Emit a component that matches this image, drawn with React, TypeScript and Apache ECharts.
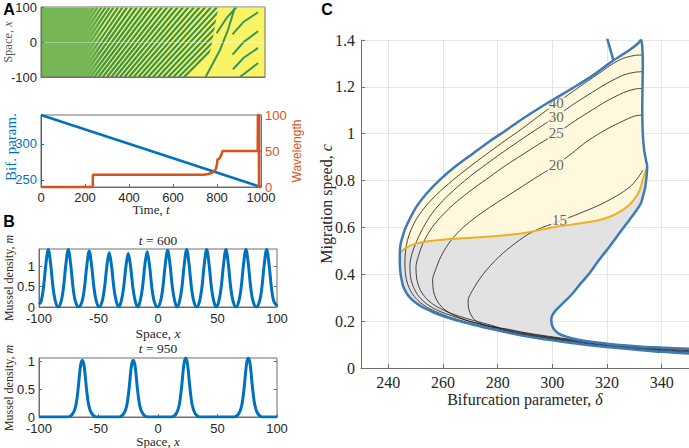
import React, { useEffect, useRef } from "react";
import * as echarts from "echarts";

// ---------------- Panel A (top): space-time pattern ----------------
const timeRange = [0, 1000];
const spaceRange = [-100, 100];
const formationStart = 212; // homogeneous (green) state until here
const formationEnd = 278; // stripes fully developed from here
// front after which the dense stripes have vanished: [t, x]
const sparseFront = [[722, -100], [758, -20], [792, 100]];
// dense stripes: time at which each stripe crosses x = -100, x = 0, x = 100
const denseStripes = [
  [25, 130, 235], [43, 148, 253], [61, 166, 271], [79, 184, 289], [97, 202, 307], [115, 220, 325],
  [133, 239, 345], [151, 258, 365], [169, 277, 385], [185, 296, 407], [203, 316, 429], [221, 336, 451],
  [239, 356, 473], [257, 376, 495], [276, 397, 518], [295, 418, 541], [314, 439, 564], [333, 460, 587],
  [353, 482, 611], [373, 504, 635], [393, 526, 659], [414, 549, 684], [435, 572, 709], [456, 595, 734],
  [478, 619, 760], [500, 643, 786], [522, 667, 812], [545, 692, 839], [568, 717, 866], [591, 742, 893],
  [615, 768, 921], [639, 794, 949],
];
// sparse stripes after the wavelength change: lists of [t, x]
const sparseStripes = [
  [[735, -100], [799, -23], [835, 35], [866, 100]],
  [[784, 25], [830, 70], [873, 100]],
  [[855, 22], [905, 58], [969, 85]],
  [[855, -36], [905, 0], [969, 31]],
  [[857, -78], [905, -45], [969, -17]],
  [[888, -100], [925, -82], [969, -60]],
];

// ---------------- Panel A (bottom) ----------------
const rampTime = [0, 1000];
const bifParam = [340, 240];
const wavelengthTime = [0, 235, 236, 740, 760, 780, 790, 795, 800, 802, 812, 820, 825, 985, 986, 990, 991, 1000];
const wavelengthValue = [0, 0, 17, 17, 18, 20, 23, 25, 32, 38, 40, 45, 50, 50, 100, 100, 0, 0];

// ---------------- Panel B ----------------
const profile600 = [
  [-100, 0.07], [-98.2, 0.14], [-96.2, 0.48], [-94.2, 1.05], [-92.2, 1.41], [-90.2, 1.05], [-88.2, 0.48], [-86.2, 0.14], [-83.8, 0],
  [-81.4, 0.14], [-79.4, 0.48], [-77.4, 1.05], [-75.4, 1.41], [-73.4, 1.05], [-71.4, 0.48], [-69.4, 0.14], [-66.6, 0],
  [-63.8, 0.14], [-61.8, 0.47], [-59.8, 1.02], [-57.8, 1.37], [-55.8, 1.02], [-53.8, 0.47], [-51.8, 0.14], [-49.4, 0],
  [-47, 0.13], [-45, 0.46], [-43, 0.99], [-41, 1.33], [-39, 0.99], [-37, 0.46], [-35, 0.13], [-33, 0],
  [-31, 0.13], [-29, 0.45], [-27, 0.98], [-25, 1.31], [-23, 0.98], [-21, 0.45], [-19, 0.13], [-17.05, 0],
  [-15.1, 0.13], [-13.1, 0.46], [-11.1, 1.01], [-9.1, 1.35], [-7.1, 1.01], [-5.1, 0.46], [-3.1, 0.13], [-0.5, 0],
  [2.1, 0.14], [4.1, 0.48], [6.1, 1.04], [8.1, 1.39], [10.1, 1.04], [12.1, 0.48], [14.1, 0.14], [16.1, 0],
  [18.1, 0.14], [20.1, 0.48], [22.1, 1.05], [24.1, 1.41], [26.1, 1.05], [28.1, 0.48], [30.1, 0.14], [32.5, 0],
  [34.9, 0.14], [36.9, 0.48], [38.9, 1.05], [40.9, 1.41], [42.9, 1.05], [44.9, 0.48], [46.9, 0.14], [49, 0],
  [51.1, 0.14], [53.1, 0.48], [55.1, 1.05], [57.1, 1.41], [59.1, 1.05], [61.1, 0.48], [63.1, 0.14], [65.5, 0],
  [67.9, 0.14], [69.9, 0.48], [71.9, 1.05], [73.9, 1.41], [75.9, 1.05], [77.9, 0.48], [79.9, 0.14], [82.6, 0],
  [85.3, 0.14], [87.3, 0.48], [89.3, 1.05], [91.3, 1.41], [93.3, 1.05], [95.3, 0.48], [97.3, 0.14], [100, 0.03],
];
const profile950 = [
  [-100, 0], [-75.6, 0], [-71.6, 0.06], [-69.1, 0.2], [-67.1, 0.51], [-65.1, 0.92], [-63.6, 1.02], [-62.1, 0.92], [-60.1, 0.51], [-58.1, 0.2], [-55.6, 0.06], [-51.6, 0],
  [-32.8, 0], [-28.8, 0.06], [-26.3, 0.2], [-24.3, 0.51], [-22.3, 0.92], [-20.8, 1.02], [-19.3, 0.92], [-17.3, 0.51], [-15.3, 0.2], [-12.8, 0.06], [-8.8, 0],
  [11.3, 0], [15.3, 0.06], [17.8, 0.21], [19.8, 0.53], [21.8, 0.95], [23.3, 1.06], [24.8, 0.95], [26.8, 0.53], [28.8, 0.21], [31.3, 0.06], [35.3, 0],
  [63.9, 0], [67.9, 0.06], [70.4, 0.21], [72.4, 0.53], [74.4, 0.95], [75.9, 1.06], [77.4, 0.95], [79.4, 0.53], [81.4, 0.21], [83.9, 0.06], [87.9, 0],
  [100, 0],
];

// ---------------- Panel C ----------------
const envelopeLowerUpper = [
  [350, 0.062], [340, 0.069], [331.8, 0.077], [322, 0.087], [313.6, 0.097], [305, 0.11], [296.5, 0.124], [290, 0.136],
  [283.2, 0.152], [277, 0.168], [272.2, 0.182], [267, 0.197], [262.5, 0.212], [258.5, 0.228], [255.2, 0.245], [252.5, 0.26],
  [250.3, 0.276], [248.2, 0.297], [246.7, 0.319], [245.4, 0.35], [244.8, 0.38], [244.4, 0.41], [244.2, 0.45], [244.2, 0.49],
  [244.5, 0.53], [245.2, 0.56], [246, 0.59], [248, 0.64], [250.3, 0.689], [254, 0.745], [258.8, 0.803], [264.5, 0.86],
  [271, 0.916], [277, 0.967], [283.2, 1.016], [289, 1.063], [295.3, 1.11], [301.4, 1.153], [307.5, 1.195], [315, 1.25],
  [322, 1.31], [328, 1.355], [331.3, 1.385], [332.5, 1.402],
];
const envelopeRight = [
  [332.5, 1.402], [332.9, 1.372], [333.1, 1.3], [333, 1.2], [332.9, 1.1], [333.1, 1.0], [333.6, 0.93], [334.3, 0.885],
  [334.7, 0.86], [334.5, 0.82], [334, 0.774], [333.2, 0.735], [332.4, 0.703], [330.6, 0.67], [328.2, 0.632], [324.5, 0.575],
  [320.9, 0.518], [317, 0.46], [313.6, 0.404], [310.3, 0.36], [307.5, 0.319], [304.2, 0.28], [301.4, 0.248], [300, 0.225],
  [299.6, 0.205], [299.9, 0.183], [300.8, 0.162], [302.5, 0.146], [305.1, 0.134], [309, 0.122], [313.6, 0.113], [320, 0.104],
  [326, 0.097], [333, 0.091], [340, 0.087], [350, 0.082],
];
const envelopeTopFold = [[319.5, 1.43], [322.3, 1.315]];
const yellowCurve = [
  [244.2, 0.49], [246, 0.51], [250.3, 0.532], [258.8, 0.546], [277, 0.561], [289.2, 0.575], [301.4, 0.603], [310, 0.617],
  [317.2, 0.632], [322, 0.65], [325.7, 0.674], [328.5, 0.7], [330.6, 0.731], [332, 0.76], [333, 0.8], [334, 0.835], [334.7, 0.86],
];
const contour40 = [
  [333.2, 1.336], [330, 1.334], [326, 1.322], [322, 1.298], [318, 1.265], [313, 1.225], [307.5, 1.18], [301.4, 1.13],
  [295, 1.075], [289, 1.022], [283, 0.973], [277, 0.922], [271, 0.87], [265, 0.815], [259, 0.755], [254, 0.695],
  [250.5, 0.64], [248.3, 0.59], [247, 0.545], [246.3, 0.5], [246.06, 0.45], [246.4, 0.39], [247.5, 0.345], [249.5, 0.305],
  [252.5, 0.272], [256.5, 0.245], [262, 0.219], [268, 0.198], [275, 0.177], [283.2, 0.155], [290, 0.139], [296.5, 0.127],
  [305, 0.113], [313.6, 0.1], [322, 0.09], [331.8, 0.08], [340, 0.072], [350, 0.065],
];
const contour30 = [
  [333.2, 1.265], [330, 1.262], [326, 1.25], [320, 1.215], [313, 1.165], [307, 1.12], [301.4, 1.073], [295, 1.025],
  [289, 0.978], [283, 0.93], [277, 0.88], [271, 0.828], [265, 0.77], [260, 0.715], [256, 0.66], [252.8, 0.6],
  [250.3, 0.54], [248.7, 0.49], [247.9, 0.44], [248.1, 0.39], [249.2, 0.345], [251.2, 0.305], [254.2, 0.272], [258.2, 0.245],
  [263.5, 0.222], [269.5, 0.2], [276, 0.18], [283.2, 0.158], [290, 0.142], [296.5, 0.13], [305, 0.116], [313.6, 0.103],
  [322, 0.093], [331.8, 0.083], [340, 0.075], [350, 0.068],
];
const contour25 = [
  [333.2, 1.194], [330, 1.19], [326, 1.175], [320, 1.14], [313, 1.09], [307, 1.045], [301.4, 1.0], [295, 0.955],
  [289, 0.91], [283, 0.865], [277, 0.815], [271, 0.765], [265, 0.71], [260, 0.655], [256, 0.6], [253, 0.54],
  [251.2, 0.485], [250.1, 0.43], [250.4, 0.38], [251.6, 0.335], [253.8, 0.298], [257, 0.267], [261.5, 0.24], [267, 0.217],
  [273, 0.197], [279, 0.178], [283.2, 0.161], [290, 0.145], [296.5, 0.133], [305, 0.119], [313.6, 0.106], [322, 0.096],
  [331.8, 0.086], [340, 0.078], [350, 0.071],
];
const contour20 = [
  [333.2, 1.08], [330, 1.075], [326, 1.055], [320, 1.02], [313, 0.97], [307, 0.915], [301.4, 0.866], [295, 0.82],
  [289, 0.775], [283, 0.73], [277, 0.685], [271, 0.635], [266, 0.585], [262, 0.53], [259.2, 0.475], [257.3, 0.42],
  [256.2, 0.376], [256.5, 0.33], [257.7, 0.29], [260, 0.255], [263.5, 0.228], [268, 0.206], [273.5, 0.188], [279, 0.174],
  [283.2, 0.164], [290, 0.148], [296.5, 0.136], [305, 0.122], [313.6, 0.109], [322, 0.099], [331.8, 0.089], [340, 0.081],
  [350, 0.074],
];
const contour15 = [
  [333.2, 0.845], [331.5, 0.815], [329, 0.78], [325, 0.745], [318, 0.7], [310, 0.66], [302, 0.624], [298, 0.607],
  [294.1, 0.589], [291, 0.57], [288, 0.546], [284.8, 0.518], [281.9, 0.49], [278.8, 0.455], [275.9, 0.418], [273.4, 0.38],
  [271.6, 0.347], [270, 0.315], [269.2, 0.29], [269.3, 0.26], [269.9, 0.235], [271.2, 0.21], [273, 0.194], [276, 0.181],
  [279.5, 0.173], [283.2, 0.167], [290, 0.151], [296.5, 0.139], [305, 0.125], [313.6, 0.112], [322, 0.102], [331.8, 0.092],
  [340, 0.084], [350, 0.077],
];
const contourLevels = ["40", "30", "25", "20", "15"];
const contourLabelPos = [[301.4, 1.13], [301.4, 1.073], [301.4, 1.002], [301.4, 0.866], [302.6, 0.632]];

const deltaTicks = [240, 260, 280, 300, 320, 340];
const densityTicks = [0, 0.5, 1];
const bifTicks = [250, 300];

// ---------------- styles ----------------
const SANS = '"Liberation Sans", Arial, Helvetica, sans-serif';
const SERIF = '"Liberation Serif", "Times New Roman", serif';
const INK = "#262626";
const AXIS = "#6e6e6e";
const MBLUE = "#0072bd";
const MORANGE = "#d95319";
const YELLOW = "#f8f466";
const GREEN = "#76b654";
const STRIPE = "#3a9455";
const CBLUE = "#3d7ab8";
const CYELLOW = "#edb120";
const FILL_Y = "#fff8dc";
const FILL_G = "#e2e2e2";

function txt(x: number, y: number, text: string, size: number, fill: string, rotate = false, family = SERIF, weight = "normal") {
  return {
    type: "text",
    x,
    y,
    rotation: rotate ? Math.PI / 2 : 0,
    silent: true,
    style: {
      text,
      align: "center",
      verticalAlign: "middle",
      fontSize: size,
      fontFamily: family,
      fontWeight: weight,
      fill,
      rich: { i: { fontStyle: "italic", fontSize: size, fontFamily: family, fill } },
    },
  };
}

function rectItem(api: any, t0: number, t1: number) {
  const a = api.coord([t0, spaceRange[1]]);
  const b = api.coord([t1, spaceRange[0]]);
  return { x: a[0], y: a[1], width: b[0] - a[0], height: b[1] - a[1] };
}

function buildOption(): any {
  const tickSans = { fontFamily: SANS, fontSize: 13, color: INK };
  const lineGray = { show: true, onZero: false, lineStyle: { color: AXIS, width: 1 } };
  const noLine = { show: false, onZero: false };
  const plain = (v: number) => String(v);

  const yellowPoly = [
    ...envelopeLowerUpper.slice(envelopeLowerUpper.findIndex((p) => p[1] === 0.49)),
    ...envelopeRight.slice(1, envelopeRight.findIndex((p) => p[1] === 0.86) + 1),
    ...yellowCurve.slice().reverse(),
  ];
  const rightDown = envelopeRight.slice(
    envelopeRight.findIndex((p) => p[1] === 0.86),
    envelopeRight.findIndex((p) => p[0] === 309) + 1
  );
  const lowerBack = envelopeLowerUpper.filter((p) => p[0] <= 305 && p[1] < 0.49);
  const grayPoly = [...yellowCurve, ...rightDown, ...lowerBack];

  const polySeries = (pts: number[][], fill: string, z: number) => ({
    type: "custom",
    xAxisIndex: 4,
    yAxisIndex: 7,
    silent: true,
    z,
    clip: true,
    data: [[0]],
    renderItem: (_p: any, api: any) => ({
      type: "polygon",
      shape: { points: pts.map((p) => api.coord(p)) },
      style: { fill },
    }),
  });

  const cLine = (pts: number[][], color: string, width: number, z: number) => ({
    type: "line",
    xAxisIndex: 4,
    yAxisIndex: 7,
    data: pts,
    showSymbol: false,
    symbol: "none",
    smooth: 0.3,
    silent: true,
    z,
    lineStyle: { color, width },
  });

  const tickIn = (color = AXIS) => ({ inside: true, length: 3, lineStyle: { color } });

  return {
    animation: false,
    backgroundColor: "#ffffff",
    grid: [
      { left: 41, top: 7, width: 224, height: 70, show: true, borderColor: AXIS, borderWidth: 1, backgroundColor: "transparent", z: 10 },
      { left: 41, top: 115, width: 220, height: 72, show: true, borderColor: AXIS, borderWidth: 1, backgroundColor: "transparent" },
      { left: 39, top: 249, width: 238, height: 58, show: true, borderColor: AXIS, borderWidth: 1, backgroundColor: "transparent" },
      { left: 39, top: 358, width: 238, height: 59, show: true, borderColor: AXIS, borderWidth: 1, backgroundColor: "transparent" },
      { left: 361, top: 40, width: 328, height: 328 },
    ],
    xAxis: [
      { gridIndex: 0, type: "value", min: timeRange[0], max: timeRange[1], interval: 200, axisLabel: { show: false }, axisTick: { show: false }, axisLine: lineGray, splitLine: { show: false }, z: 10 },
      { gridIndex: 1, type: "value", min: 0, max: 1000, interval: 200, axisLabel: { ...tickSans, margin: 4, formatter: plain }, axisTick: tickIn(), axisLine: lineGray, splitLine: { show: false } },
      { gridIndex: 2, type: "value", min: -100, max: 100, interval: 50, axisLabel: { ...tickSans, margin: 5, formatter: plain }, axisTick: tickIn(), axisLine: lineGray, splitLine: { show: false } },
      { gridIndex: 3, type: "value", min: -100, max: 100, interval: 50, axisLabel: { ...tickSans, margin: 5, formatter: plain }, axisTick: tickIn(), axisLine: lineGray, splitLine: { show: false } },
      {
        gridIndex: 4, type: "value", min: 230, max: 350,
        axisLabel: { customValues: deltaTicks, fontFamily: SERIF, fontSize: 16, color: INK, margin: 6 },
        axisTick: { customValues: deltaTicks, inside: true, length: 4, lineStyle: { color: AXIS } },
        axisLine: lineGray,
        splitLine: { show: true, lineStyle: { color: "#e6e6e6", width: 1 } },
      },
    ],
    yAxis: [
      {
        gridIndex: 0, type: "value", min: spaceRange[0], max: spaceRange[1], interval: 100,
        axisLabel: { ...tickSans, margin: 4 }, axisTick: tickIn(), axisLine: lineGray,
        splitLine: { show: true, lineStyle: { color: "rgba(255,255,255,0.35)", width: 1 } }, z: 10,
      },
      {
        gridIndex: 1, type: "value", min: 240, max: 340, position: "left",
        axisLabel: { customValues: bifTicks, fontFamily: SANS, fontSize: 13, color: MBLUE, margin: 4 },
        axisTick: { customValues: bifTicks, inside: true, length: 3, lineStyle: { color: MBLUE } },
        axisLine: { show: true, onZero: false, lineStyle: { color: MBLUE, width: 1 } },
        splitLine: { show: false },
      },
      {
        gridIndex: 1, type: "value", min: 0, max: 100, interval: 50, position: "right",
        axisLabel: { fontFamily: SANS, fontSize: 13, color: MORANGE, margin: 4 },
        axisTick: tickIn(MORANGE),
        axisLine: { show: true, onZero: false, lineStyle: { color: MORANGE, width: 1 } },
        splitLine: { show: false },
      },
      {
        gridIndex: 2, type: "value", min: 0, max: 1.42,
        axisLabel: { customValues: densityTicks, ...tickSans, margin: 4 },
        axisTick: { customValues: densityTicks, ...tickIn() },
        axisLine: lineGray, splitLine: { show: false },
      },
      {
        gridIndex: 2, type: "value", min: 0, max: 1.42, position: "right",
        axisLabel: { show: false }, axisLine: noLine, splitLine: { show: false },
        axisTick: { customValues: densityTicks, ...tickIn() },
      },
      {
        gridIndex: 3, type: "value", min: 0, max: 1.06,
        axisLabel: { customValues: densityTicks, ...tickSans, margin: 4 },
        axisTick: { customValues: densityTicks, ...tickIn() },
        axisLine: lineGray, splitLine: { show: false },
      },
      {
        gridIndex: 3, type: "value", min: 0, max: 1.06, position: "right",
        axisLabel: { show: false }, axisLine: noLine, splitLine: { show: false },
        axisTick: { customValues: densityTicks, ...tickIn() },
      },
      {
        gridIndex: 4, type: "value", min: 0, max: 1.4, interval: 0.2,
        axisLabel: { fontFamily: SERIF, fontSize: 16, color: INK, margin: 6, formatter: (v: number) => String(Math.round(v * 10) / 10) },
        axisTick: { inside: true, length: 4, lineStyle: { color: AXIS } },
        axisLine: lineGray,
        splitLine: { show: true, lineStyle: { color: "#e6e6e6", width: 1 } },
      },
    ],
    series: [
      // ---- Panel A heatmap ----
      {
        type: "custom", xAxisIndex: 0, yAxisIndex: 0, silent: true, clip: true, z: 1, data: [[0]],
        renderItem: (_p: any, api: any) => ({ type: "rect", shape: rectItem(api, timeRange[0], timeRange[1]), style: { fill: YELLOW } }),
      },
      {
        type: "custom", xAxisIndex: 0, yAxisIndex: 0, silent: true, clip: true, z: 2,
        data: denseStripes.map((_s, i) => [i]),
        renderItem: (p: any, api: any) => {
          const s = denseStripes[p.dataIndex];
          return {
            type: "polyline",
            shape: { points: [api.coord([s[0], spaceRange[0]]), api.coord([s[1], 0]), api.coord([s[2], spaceRange[1]])] },
            style: { stroke: STRIPE, lineWidth: 2.2, fill: null },
          };
        },
      },
      {
        type: "custom", xAxisIndex: 0, yAxisIndex: 0, silent: true, clip: true, z: 3, data: [[0]],
        renderItem: (_p: any, api: any) => ({
          type: "polygon",
          shape: {
            points: [
              ...sparseFront.map((q) => api.coord(q)),
              api.coord([timeRange[1], spaceRange[1]]),
              api.coord([timeRange[1], spaceRange[0]]),
            ],
          },
          style: { fill: YELLOW },
        }),
      },
      {
        type: "custom", xAxisIndex: 0, yAxisIndex: 0, silent: true, clip: true, z: 4,
        data: sparseStripes.map((_s, i) => [i]),
        renderItem: (p: any, api: any) => ({
          type: "polyline",
          shape: { points: sparseStripes[p.dataIndex].map((q) => api.coord(q)) },
          style: { stroke: STRIPE, lineWidth: 2, fill: null },
        }),
      },
      {
        type: "custom", xAxisIndex: 0, yAxisIndex: 0, silent: true, clip: true, z: 5, data: [[0]],
        renderItem: (_p: any, api: any) => ({
          type: "group",
          children: [
            { type: "rect", shape: rectItem(api, timeRange[0], formationStart), style: { fill: GREEN } },
            {
              type: "rect",
              shape: rectItem(api, formationStart - 1, formationEnd),
              style: {
                fill: new echarts.graphic.LinearGradient(0, 0, 1, 0, [
                  { offset: 0, color: "rgba(118,182,84,1)" },
                  { offset: 1, color: "rgba(118,182,84,0)" },
                ]),
              },
            },
          ],
        }),
      },
      // ---- Panel A lower ----
      {
        type: "line", xAxisIndex: 1, yAxisIndex: 1, data: rampTime.map((t, i) => [t, bifParam[i]]),
        showSymbol: false, symbol: "none", clip: false, silent: true, lineStyle: { color: MBLUE, width: 2.5 },
      },
      {
        type: "line", xAxisIndex: 1, yAxisIndex: 2, data: wavelengthTime.map((t, i) => [t, wavelengthValue[i]]),
        showSymbol: false, symbol: "none", clip: false, silent: true, lineStyle: { color: MORANGE, width: 2.5 },
      },
      // ---- Panel B ----
      {
        type: "line", xAxisIndex: 2, yAxisIndex: 3, data: profile600, showSymbol: false, symbol: "none", smooth: 0.35,
        silent: true, lineStyle: { color: MBLUE, width: 3 },
      },
      {
        type: "line", xAxisIndex: 3, yAxisIndex: 5, data: profile950, showSymbol: false, symbol: "none", smooth: 0.35,
        silent: true, lineStyle: { color: MBLUE, width: 3 },
      },
      // ---- Panel C ----
      polySeries(yellowPoly, FILL_Y, 1),
      polySeries(grayPoly, FILL_G, 1),
      cLine(contour40, "#1a1a1a", 0.8, 3),
      cLine(contour30, "#1a1a1a", 0.8, 3),
      cLine(contour25, "#1a1a1a", 0.8, 3),
      cLine(contour20, "#1a1a1a", 0.8, 3),
      cLine(contour15, "#1a1a1a", 0.8, 3),
      {
        type: "scatter", xAxisIndex: 4, yAxisIndex: 7, silent: true, z: 4,
        symbol: "circle", symbolSize: 2, itemStyle: { color: "rgba(0,0,0,0)" },
        data: contourLabelPos,
        label: {
          show: true, position: "inside",
          formatter: (p: any) => contourLevels[p.dataIndex],
          fontFamily: SERIF, fontSize: 15, color: "#404040",
          backgroundColor: FILL_Y, padding: [0, 1], lineHeight: 12,
        },
        labelLayout: { hideOverlap: false },
      },
      cLine(yellowCurve, CYELLOW, 2, 5),
      cLine(envelopeLowerUpper, CBLUE, 2.5, 6),
      cLine(envelopeRight, CBLUE, 2.5, 6),
      cLine(envelopeTopFold, CBLUE, 2.5, 6),
    ],
    graphic: [
      txt(9, 9, "A", 16, "#000", false, SANS, "bold"),
      txt(8, 42, "Space, {i|x}", 12.5, "#555", true),
      txt(11, 147, "Bif. param.", 15, MBLUE, true),
      txt(297, 151, "Wavelength", 12, MORANGE, true, SANS),
      txt(151, 209, "Time, {i|t}", 13, INK),
      txt(9, 221, "B", 16, "#000", false, SANS, "bold"),
      txt(158, 240, "{i|t} = 600", 13.5, INK),
      txt(9, 278, "Mussel density, {i|m}", 12, INK, true),
      txt(158, 333, "Space, {i|x}", 13.5, INK),
      txt(158, 348, "{i|t} = 950", 13.5, INK),
      txt(9, 388, "Mussel density, {i|m}", 12, INK, true),
      txt(158, 441, "Space, {i|x}", 13, INK),
      txt(327, 9, "C", 16, "#000", false, SANS, "bold"),
      txt(326, 204, "Migration speed, {i|c}", 16, INK, true),
      txt(525, 399, "Bifurcation parameter, {i|δ}", 16, INK),
    ],
  };
}

export default function App() {
  const ref = useRef<HTMLDivElement>(null);
  useEffect(() => {
    if (!ref.current) return;
    const chart = echarts.init(ref.current, undefined, { renderer: "svg" });
    chart.setOption(buildOption());
    return () => chart.dispose();
  }, []);
  return (
    <div
      ref={ref}
      style={{ position: "fixed", left: 0, top: 0, width: 689, height: 448, background: "#fff" }}
    />
  );
}
